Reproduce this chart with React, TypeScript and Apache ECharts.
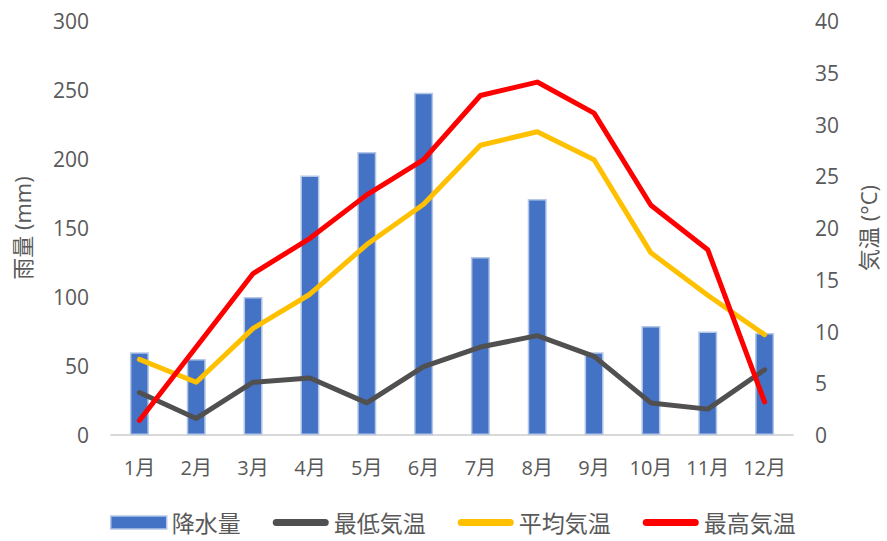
import React, { useEffect, useRef } from "react";
import * as echarts from "echarts";

const months = ["1月", "2月", "3月", "4月", "5月", "6月", "7月", "8月", "9月", "10月", "11月", "12月"];
const rainfall = [60, 55, 100, 188, 205, 248, 129, 171, 60, 79, 75, 74];
const minTemp = [4.1, 1.6, 5.1, 5.5, 3.1, 6.6, 8.5, 9.6, 7.6, 3.1, 2.5, 6.3];
const avgTemp = [7.3, 5.1, 10.3, 13.6, 18.4, 22.3, 28.0, 29.3, 26.6, 17.6, 13.5, 9.7];
const maxTemp = [1.4, 8.5, 15.6, 19.0, 23.2, 26.6, 32.8, 34.1, 31.1, 22.2, 17.9, 3.2];

const FONT = "'Open Sans', 'Noto Sans CJK JP', sans-serif";
const TEXT = "#595959";
const LINE_ICON = "path://M3.5,0 h49 a3.5,3.5 0 0 1 0,7 h-49 a3.5,3.5 0 0 1 0,-7 z";

export default function App() {
  const ref = useRef<HTMLDivElement>(null);
  useEffect(() => {
    document.body.style.margin = "0";
    if (!ref.current) return;
    const chart = echarts.init(ref.current, undefined, { renderer: "svg" });
    const lineSeries = (name: string, data: number[], color: string) => ({
      name,
      type: "line",
      yAxisIndex: 1,
      data,
      symbol: "none",
      lineStyle: { color, width: 5, cap: "round", join: "round" },
      itemStyle: { color },
    });
    chart.setOption({
      animation: false,
      textStyle: { fontFamily: FONT, color: TEXT },
      grid: { left: 111, right: 92, top: 21, bottom: 106 },
      legend: {
        bottom: 2,
        left: 105,
        itemWidth: 56,
        itemHeight: 13,
        itemGap: 32,
        symbolKeepAspect: true,
        textStyle: { fontSize: 23, color: TEXT, fontFamily: FONT },
        data: [
          { name: "降水量", icon: "rect", itemStyle: { color: "#4472C4", borderColor: "#B4C7E7", borderWidth: 1.5 } },
          { name: "最低気温", icon: LINE_ICON, itemStyle: { color: "#505050", borderWidth: 0 } },
          { name: "平均気温", icon: LINE_ICON, itemStyle: { color: "#FFC000", borderWidth: 0 } },
          { name: "最高気温", icon: LINE_ICON, itemStyle: { color: "#FF0000", borderWidth: 0 } },
        ],
      },
      xAxis: {
        type: "category",
        data: months,
        axisLine: { lineStyle: { color: "#D9D9D9", width: 2 } },
        axisTick: { show: false },
        axisLabel: { interval: 0, fontSize: 20, color: TEXT, margin: 22, fontFamily: FONT },
      },
      yAxis: [
        {
          type: "value",
          min: 0,
          max: 300,
          interval: 50,
          name: "雨量 (mm)",
          nameLocation: "middle",
          nameRotate: 90,
          nameGap: 78,
          nameTextStyle: { fontSize: 22, color: TEXT, fontFamily: FONT },
          splitLine: { show: false },
          axisLine: { show: false },
          axisTick: { show: false },
          axisLabel: { fontSize: 21, color: TEXT, margin: 22, fontFamily: FONT },
        },
        {
          type: "value",
          min: 0,
          max: 40,
          interval: 5,
          name: "気温 (°C)",
          nameLocation: "middle",
          nameRotate: 90,
          nameGap: 64,
          nameTextStyle: { fontSize: 22, color: TEXT, fontFamily: FONT },
          splitLine: { show: false },
          axisLine: { show: false },
          axisTick: { show: false },
          axisLabel: { fontSize: 21, color: TEXT, margin: 22, fontFamily: FONT },
        },
      ],
      series: [
        {
          name: "降水量",
          type: "bar",
          data: rainfall,
          barWidth: 19,
          itemStyle: { color: "#4472C4", borderColor: "#B4C7E7", borderWidth: 1.5 },
        },
        lineSeries("最低気温", minTemp, "#505050"),
        lineSeries("平均気温", avgTemp, "#FFC000"),
        lineSeries("最高気温", maxTemp, "#FF0000"),
      ],
    });
    return () => chart.dispose();
  }, []);
  return <div ref={ref} style={{ width: 887, height: 541 }} />;
}
